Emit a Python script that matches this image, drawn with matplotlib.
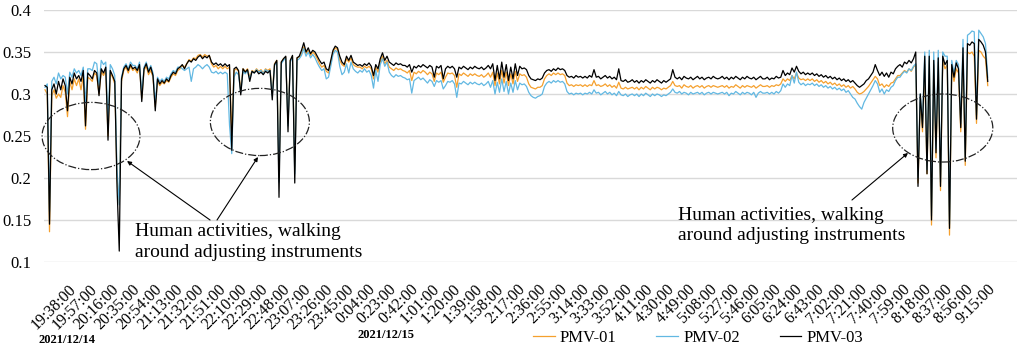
import numpy as np
import matplotlib
matplotlib.use('Agg')
import matplotlib.pyplot as plt
from matplotlib.patches import Ellipse
from matplotlib.transforms import ScaledTranslation

plt.rcParams['font.family'] = ['Liberation Serif', 'DejaVu Serif']

# PMV readings, one value every 2 minutes starting 2021/12/14 19:38
pmv03 = [
    0.310, 0.308, 0.145, 0.305, 0.312, 0.300, 0.315, 0.305, 0.318, 0.310, 0.280, 0.320, 0.312, 0.325, 0.318, 0.322, 0.315, 0.328, 0.262, 0.325,
    0.322, 0.318, 0.328, 0.325, 0.298, 0.330, 0.325, 0.332, 0.245, 0.328, 0.322, 0.315, 0.190, 0.113, 0.318, 0.330, 0.334, 0.328, 0.335, 0.330,
    0.332, 0.328, 0.335, 0.291, 0.330, 0.336, 0.326, 0.332, 0.322, 0.280, 0.318, 0.312, 0.316, 0.313, 0.318, 0.315, 0.322, 0.326, 0.324, 0.330,
    0.332, 0.335, 0.330, 0.336, 0.340, 0.338, 0.342, 0.340, 0.344, 0.346, 0.342, 0.345, 0.343, 0.346, 0.338, 0.335, 0.337, 0.334, 0.336, 0.333,
    0.336, 0.333, 0.335, 0.233, 0.330, 0.332, 0.328, 0.299, 0.330, 0.326, 0.329, 0.315, 0.327, 0.325, 0.328, 0.324, 0.326, 0.323, 0.327, 0.325,
    0.328, 0.293, 0.335, 0.340, 0.177, 0.338, 0.342, 0.345, 0.255, 0.340, 0.346, 0.194, 0.343, 0.345, 0.352, 0.361, 0.350, 0.355, 0.348, 0.352,
    0.350, 0.345, 0.340, 0.336, 0.338, 0.330, 0.328, 0.340, 0.352, 0.357, 0.355, 0.345, 0.338, 0.335, 0.345, 0.340, 0.346, 0.338, 0.336, 0.334,
    0.335, 0.333, 0.336, 0.334, 0.337, 0.333, 0.322, 0.335, 0.330, 0.342, 0.349, 0.340, 0.345, 0.338, 0.336, 0.334, 0.337, 0.335, 0.336, 0.334,
    0.334, 0.332, 0.335, 0.326, 0.333, 0.331, 0.334, 0.332, 0.335, 0.333, 0.331, 0.334, 0.332, 0.320, 0.333, 0.331, 0.334, 0.318, 0.330, 0.333,
    0.331, 0.333, 0.330, 0.320, 0.332, 0.330, 0.333, 0.331, 0.329, 0.332, 0.330, 0.333, 0.331, 0.330, 0.332, 0.329, 0.331, 0.334, 0.330, 0.336,
    0.316, 0.334, 0.318, 0.338, 0.320, 0.335, 0.316, 0.332, 0.318, 0.336, 0.322, 0.333, 0.330, 0.331, 0.329, 0.322, 0.318, 0.317, 0.316, 0.318,
    0.317, 0.319, 0.325, 0.328, 0.329, 0.327, 0.330, 0.328, 0.331, 0.329, 0.330, 0.328, 0.322, 0.320, 0.321, 0.319, 0.322, 0.320, 0.321, 0.319,
    0.321, 0.319, 0.322, 0.320, 0.329, 0.320, 0.321, 0.318, 0.320, 0.322, 0.319, 0.321, 0.318, 0.320, 0.317, 0.330, 0.316, 0.315, 0.317, 0.314,
    0.315, 0.317, 0.314, 0.316, 0.313, 0.316, 0.314, 0.317, 0.315, 0.313, 0.316, 0.314, 0.317, 0.315, 0.313, 0.316, 0.314, 0.316, 0.318, 0.329,
    0.320, 0.318, 0.320, 0.317, 0.321, 0.319, 0.318, 0.320, 0.317, 0.319, 0.321, 0.318, 0.320, 0.317, 0.319, 0.320, 0.318, 0.321, 0.319, 0.318,
    0.319, 0.321, 0.318, 0.320, 0.317, 0.320, 0.318, 0.321, 0.319, 0.317, 0.320, 0.318, 0.321, 0.319, 0.318, 0.320, 0.317, 0.319, 0.321, 0.318,
    0.318, 0.320, 0.317, 0.319, 0.318, 0.321, 0.319, 0.320, 0.328, 0.322, 0.325, 0.323, 0.331, 0.326, 0.333, 0.327, 0.324, 0.326, 0.323, 0.325,
    0.323, 0.325, 0.322, 0.324, 0.321, 0.323, 0.320, 0.322, 0.319, 0.321, 0.318, 0.320, 0.317, 0.319, 0.316, 0.318, 0.315, 0.317, 0.314, 0.316,
    0.313, 0.310, 0.308, 0.310, 0.312, 0.316, 0.318, 0.322, 0.326, 0.335, 0.328, 0.322, 0.326, 0.321, 0.325, 0.320, 0.326, 0.324, 0.330, 0.333,
    0.335, 0.332, 0.338, 0.336, 0.340, 0.337, 0.342, 0.350, 0.190, 0.300, 0.260, 0.345, 0.205, 0.345, 0.150, 0.340, 0.230, 0.343, 0.190, 0.345,
    0.335, 0.340, 0.140, 0.335, 0.320, 0.337, 0.330, 0.260, 0.355, 0.220, 0.360, 0.358, 0.362, 0.360, 0.270, 0.365, 0.362, 0.358, 0.350, 0.315,
]

pmv01 = [
    0.305, 0.300, 0.136, 0.298, 0.305, 0.295, 0.300, 0.296, 0.310, 0.302, 0.273, 0.315, 0.305, 0.318, 0.310, 0.318, 0.305, 0.322, 0.258, 0.320,
    0.318, 0.315, 0.325, 0.322, 0.300, 0.327, 0.322, 0.328, 0.250, 0.325, 0.320, 0.312, 0.200, 0.170, 0.315, 0.328, 0.332, 0.325, 0.333, 0.328,
    0.330, 0.325, 0.333, 0.295, 0.328, 0.333, 0.323, 0.328, 0.320, 0.285, 0.315, 0.310, 0.314, 0.312, 0.316, 0.314, 0.320, 0.324, 0.322, 0.328,
    0.330, 0.334, 0.332, 0.336, 0.341, 0.339, 0.343, 0.342, 0.346, 0.347, 0.344, 0.347, 0.345, 0.346, 0.336, 0.332, 0.334, 0.330, 0.333, 0.330,
    0.333, 0.330, 0.332, 0.250, 0.328, 0.330, 0.327, 0.305, 0.330, 0.327, 0.330, 0.320, 0.328, 0.326, 0.330, 0.327, 0.329, 0.325, 0.330, 0.328,
    0.330, 0.300, 0.336, 0.340, 0.200, 0.338, 0.342, 0.344, 0.265, 0.340, 0.345, 0.210, 0.343, 0.344, 0.348, 0.356, 0.348, 0.352, 0.346, 0.350,
    0.347, 0.342, 0.336, 0.332, 0.334, 0.327, 0.325, 0.337, 0.350, 0.355, 0.353, 0.340, 0.335, 0.333, 0.342, 0.338, 0.343, 0.335, 0.333, 0.332,
    0.332, 0.330, 0.333, 0.331, 0.333, 0.330, 0.318, 0.332, 0.326, 0.338, 0.345, 0.336, 0.340, 0.332, 0.330, 0.328, 0.331, 0.329, 0.330, 0.328,
    0.327, 0.325, 0.328, 0.316, 0.326, 0.324, 0.327, 0.325, 0.328, 0.326, 0.323, 0.326, 0.324, 0.315, 0.325, 0.323, 0.326, 0.314, 0.320, 0.325,
    0.324, 0.325, 0.322, 0.308, 0.324, 0.322, 0.325, 0.323, 0.321, 0.324, 0.322, 0.324, 0.322, 0.321, 0.323, 0.320, 0.322, 0.325, 0.320, 0.326,
    0.310, 0.325, 0.312, 0.328, 0.313, 0.326, 0.310, 0.324, 0.312, 0.327, 0.315, 0.324, 0.322, 0.323, 0.320, 0.312, 0.308, 0.307, 0.306, 0.308,
    0.308, 0.310, 0.318, 0.322, 0.324, 0.322, 0.325, 0.323, 0.325, 0.323, 0.324, 0.322, 0.313, 0.310, 0.311, 0.309, 0.311, 0.310, 0.311, 0.309,
    0.311, 0.309, 0.311, 0.310, 0.316, 0.310, 0.311, 0.309, 0.310, 0.312, 0.309, 0.311, 0.308, 0.310, 0.307, 0.314, 0.307, 0.306, 0.308, 0.306,
    0.307, 0.308, 0.306, 0.308, 0.305, 0.308, 0.306, 0.309, 0.307, 0.305, 0.308, 0.306, 0.308, 0.307, 0.305, 0.307, 0.306, 0.308, 0.310, 0.315,
    0.310, 0.309, 0.310, 0.307, 0.311, 0.309, 0.308, 0.310, 0.307, 0.309, 0.310, 0.308, 0.310, 0.307, 0.309, 0.310, 0.308, 0.310, 0.309, 0.308,
    0.309, 0.310, 0.308, 0.310, 0.307, 0.309, 0.308, 0.311, 0.309, 0.307, 0.310, 0.308, 0.310, 0.309, 0.308, 0.310, 0.307, 0.309, 0.311, 0.309,
    0.309, 0.310, 0.308, 0.310, 0.309, 0.311, 0.310, 0.312, 0.318, 0.315, 0.318, 0.316, 0.322, 0.318, 0.325, 0.319, 0.317, 0.318, 0.316, 0.318,
    0.316, 0.318, 0.315, 0.317, 0.314, 0.316, 0.313, 0.315, 0.312, 0.314, 0.311, 0.313, 0.310, 0.312, 0.309, 0.311, 0.308, 0.310, 0.307, 0.309,
    0.306, 0.302, 0.300, 0.301, 0.303, 0.306, 0.309, 0.313, 0.317, 0.321, 0.318, 0.310, 0.312, 0.308, 0.311, 0.309, 0.313, 0.314, 0.318, 0.322,
    0.322, 0.325, 0.328, 0.326, 0.330, 0.327, 0.332, 0.335, 0.194, 0.290, 0.255, 0.335, 0.205, 0.340, 0.144, 0.335, 0.224, 0.338, 0.185, 0.340,
    0.330, 0.335, 0.132, 0.330, 0.315, 0.330, 0.325, 0.255, 0.345, 0.215, 0.350, 0.348, 0.350, 0.345, 0.265, 0.352, 0.350, 0.345, 0.342, 0.310,
]

pmv02 = [
    0.308, 0.312, 0.160, 0.315, 0.320, 0.312, 0.325, 0.318, 0.322, 0.320, 0.300, 0.326, 0.320, 0.330, 0.325, 0.328, 0.322, 0.332, 0.290, 0.330,
    0.330, 0.328, 0.338, 0.336, 0.310, 0.340, 0.335, 0.338, 0.265, 0.335, 0.330, 0.322, 0.210, 0.168, 0.320, 0.332, 0.336, 0.330, 0.338, 0.334,
    0.334, 0.330, 0.338, 0.300, 0.332, 0.338, 0.328, 0.334, 0.325, 0.290, 0.320, 0.315, 0.318, 0.315, 0.320, 0.318, 0.324, 0.328, 0.326, 0.332,
    0.332, 0.330, 0.328, 0.330, 0.332, 0.315, 0.330, 0.332, 0.335, 0.333, 0.330, 0.333, 0.335, 0.332, 0.326, 0.325, 0.327, 0.324, 0.326, 0.324,
    0.326, 0.324, 0.263, 0.229, 0.320, 0.326, 0.323, 0.302, 0.327, 0.324, 0.328, 0.318, 0.327, 0.325, 0.329, 0.326, 0.328, 0.324, 0.329, 0.327,
    0.328, 0.298, 0.334, 0.338, 0.195, 0.336, 0.340, 0.343, 0.262, 0.338, 0.344, 0.205, 0.340, 0.342, 0.346, 0.354, 0.345, 0.350, 0.343, 0.347,
    0.343, 0.337, 0.332, 0.328, 0.330, 0.318, 0.320, 0.333, 0.347, 0.352, 0.350, 0.333, 0.323, 0.326, 0.336, 0.325, 0.338, 0.330, 0.327, 0.325,
    0.328, 0.326, 0.330, 0.326, 0.328, 0.322, 0.307, 0.328, 0.315, 0.335, 0.342, 0.333, 0.338, 0.326, 0.322, 0.320, 0.323, 0.321, 0.322, 0.320,
    0.319, 0.317, 0.318, 0.301, 0.316, 0.318, 0.320, 0.317, 0.319, 0.316, 0.313, 0.317, 0.315, 0.309, 0.316, 0.314, 0.316, 0.306, 0.310, 0.315,
    0.314, 0.316, 0.312, 0.296, 0.313, 0.312, 0.315, 0.313, 0.311, 0.314, 0.312, 0.314, 0.312, 0.311, 0.313, 0.310, 0.312, 0.315, 0.308, 0.316,
    0.300, 0.314, 0.302, 0.318, 0.303, 0.315, 0.300, 0.313, 0.302, 0.316, 0.305, 0.313, 0.311, 0.312, 0.309, 0.302, 0.298, 0.296, 0.295, 0.297,
    0.298, 0.300, 0.309, 0.313, 0.315, 0.313, 0.316, 0.314, 0.316, 0.314, 0.315, 0.312, 0.303, 0.300, 0.301, 0.299, 0.301, 0.300, 0.301, 0.299,
    0.301, 0.300, 0.302, 0.300, 0.305, 0.301, 0.302, 0.299, 0.301, 0.303, 0.300, 0.302, 0.299, 0.301, 0.298, 0.303, 0.299, 0.298, 0.300, 0.297,
    0.299, 0.300, 0.298, 0.300, 0.297, 0.300, 0.298, 0.301, 0.299, 0.297, 0.300, 0.298, 0.300, 0.299, 0.297, 0.299, 0.298, 0.300, 0.302, 0.306,
    0.302, 0.301, 0.303, 0.300, 0.302, 0.301, 0.299, 0.302, 0.300, 0.301, 0.302, 0.300, 0.302, 0.299, 0.301, 0.302, 0.300, 0.302, 0.301, 0.300,
    0.301, 0.302, 0.300, 0.302, 0.298, 0.301, 0.300, 0.303, 0.301, 0.299, 0.302, 0.300, 0.302, 0.301, 0.299, 0.302, 0.296, 0.301, 0.303, 0.301,
    0.301, 0.302, 0.300, 0.302, 0.300, 0.303, 0.301, 0.304, 0.312, 0.308, 0.312, 0.310, 0.322, 0.313, 0.326, 0.314, 0.311, 0.313, 0.310, 0.312,
    0.311, 0.313, 0.310, 0.312, 0.309, 0.311, 0.308, 0.310, 0.307, 0.309, 0.306, 0.308, 0.305, 0.307, 0.304, 0.306, 0.302, 0.304, 0.300, 0.296,
    0.294, 0.289, 0.285, 0.282, 0.290, 0.295, 0.300, 0.305, 0.310, 0.316, 0.312, 0.302, 0.306, 0.300, 0.305, 0.303, 0.308, 0.310, 0.316, 0.320,
    0.320, 0.324, 0.327, 0.325, 0.330, 0.328, 0.333, 0.336, 0.200, 0.300, 0.265, 0.350, 0.210, 0.352, 0.155, 0.350, 0.235, 0.352, 0.195, 0.350,
    0.345, 0.345, 0.145, 0.340, 0.325, 0.340, 0.335, 0.265, 0.365, 0.225, 0.370, 0.372, 0.375, 0.374, 0.275, 0.376, 0.372, 0.368, 0.360, 0.320,
]

step_min = 2
tick_every = 19
tick_labels = ['19:38:00', '19:57:00', '20:16:00', '20:35:00', '20:54:00', '21:13:00', '21:32:00',
               '21:51:00', '22:10:00', '22:29:00', '22:48:00', '23:07:00', '23:26:00', '23:45:00',
               '0:04:00', '0:23:00', '0:42:00', '1:01:00', '1:20:00', '1:39:00', '1:58:00',
               '2:17:00', '2:36:00', '2:55:00', '3:14:00', '3:33:00', '3:52:00', '4:11:00',
               '4:30:00', '4:49:00', '5:08:00', '5:27:00', '5:46:00', '6:05:00', '6:24:00',
               '6:43:00', '7:02:00', '7:21:00', '7:40:00', '7:59:00', '8:18:00', '8:37:00',
               '8:56:00', '9:15:00']
yticks = [0.1, 0.15, 0.2, 0.25, 0.3, 0.35, 0.4]
ytick_labels = ['0.1', '0.15', '0.2', '0.25', '0.3', '0.35', '0.4']
note = 'Human activities, walking\naround adjusting instruments'

c01 = '#F5A02E'
c02 = '#62B8E2'
c03 = '#000000'

minutes = np.arange(len(pmv03)) * step_min

fig = plt.figure(figsize=(10.21, 3.49), dpi=100)
ax = fig.add_axes([44/1021, 1-262/349, 973/1021, 252/349])

l1, = ax.plot(minutes, pmv01, color=c01, lw=0.9, label='PMV-01')
l2, = ax.plot(minutes, pmv02, color=c02, lw=0.9, label='PMV-02')
l3, = ax.plot(minutes, pmv03, color=c03, lw=0.9, label='PMV-03')

ax.set_xlim(-0.9, 864)
ax.set_ylim(0.1, 0.4)
ax.set_yticks(yticks)
ax.set_yticklabels(ytick_labels, fontsize=12)
ax.yaxis.grid(True, color='#D9D9D9', lw=1.0)
ax.set_axisbelow(True)
for s in ax.spines.values():
    s.set_visible(False)
ax.tick_params(axis='both', length=0)
ax.tick_params(axis='y', pad=9)

ax.set_xticks(np.arange(len(tick_labels)) * tick_every)
ax.set_xticklabels(tick_labels, rotation=45, ha='right', va='top',
                   rotation_mode='anchor', fontsize=11.5)
ax.tick_params(axis='x', pad=14)
shift = ScaledTranslation(23/100, 0, fig.dpi_scale_trans)
for lab in ax.get_xticklabels():
    lab.set_transform(lab.get_transform() + shift)

# dash-dot ellipses around the disturbed periods
for cx, cy, w, h in [(40.9, 0.250, 87, 0.080), (191, 0.2667, 88, 0.080), (798, 0.2595, 89, 0.081)]:
    ax.add_patch(Ellipse((cx, cy), w, h, fill=False, ls='-.', lw=0.9,
                         color='#222222', clip_on=False, zorder=5))

arrow = dict(arrowstyle='-|>', lw=0.8, color='black', mutation_scale=6, shrinkA=0, shrinkB=0)
ax.annotate('', xy=(72.9, 0.2202), xytext=(146.7, 0.150), arrowprops=arrow, annotation_clip=False)
ax.annotate('', xy=(189.3, 0.2250), xytext=(152.9, 0.150), arrowprops=arrow, annotation_clip=False)
ax.annotate('', xy=(767.1, 0.2298), xytext=(717.3, 0.1738), arrowprops=arrow, annotation_clip=False)

ax.text(80, 0.1460, note, fontsize=14, va='top', ha='left', linespacing=1.3)
ax.text(562.7, 0.1660, note, fontsize=14, va='top', ha='left', linespacing=1.3)

fig.text(38/1021, 1-340/349, '2021/12/14', fontsize=9, fontweight='bold', va='center')
fig.text(357/1021, 1-335/349, '2021/12/15', fontsize=9, fontweight='bold', va='center')

fig.legend(handles=[l1, l2, l3], loc='center left', bbox_to_anchor=(533/1021, 1-338/349),
           ncol=3, frameon=False, fontsize=12, handlelength=1.3, handletextpad=0.3,
           columnspacing=2.4, borderpad=0, borderaxespad=0)

fig.savefig('out.png', dpi=100)
